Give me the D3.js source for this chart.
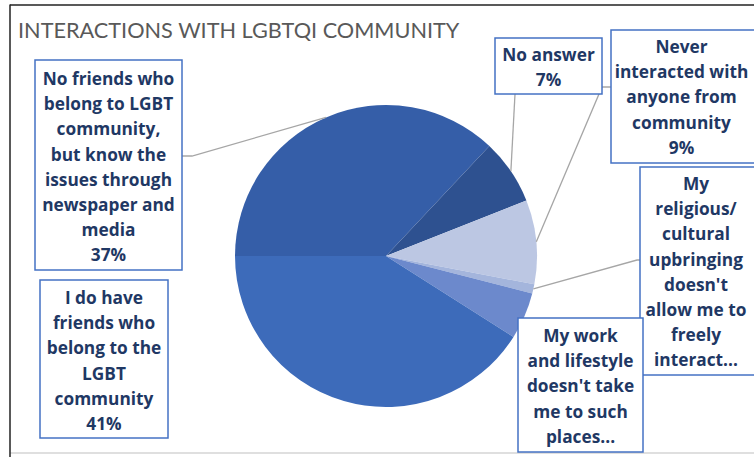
<!DOCTYPE html>
<html>
<head>
<meta charset="utf-8">
<script src="https://cdn.jsdelivr.net/npm/d3@7"></script>
<style>
  body { margin: 0; background: #fff; }
  svg { display: block; }
</style>
</head>
<body>
<div id="chart"></div>
<script>
// data (clockwise from 9 o'clock)
const categories = [
  "No friends who belong to LGBT community, but know the issues through newspaper and media",
  "No answer",
  "Never interacted with anyone from community",
  "My religious/ cultural upbringing doesn't allow me to freely interact...",
  "My work and lifestyle doesn't take me to such places...",
  "I do have friends who belong to the LGBT community"
];
const values = [37, 7, 9, 1, 5, 41];
const labelLines = [
  ["No friends who", "belong to LGBT", "community,", "but know the", "issues through", "newspaper and", "media"],
  ["No answer"],
  ["Never", "interacted with", "anyone from", "community"],
  ["My", "religious/", "cultural", "upbringing", "doesn't", "allow me to", "freely", "interact..."],
  ["My work", "and lifestyle", "doesn't take", "me to such", "places..."],
  ["I do have", "friends who", "belong to the", "LGBT", "community"]
];
const showPercent = [true, true, true, false, false, true];
const title = "INTERACTIONS WITH LGBTQI COMMUNITY";

const W = 754, H = 457;
const cx = 386, cy = 256, R = 151;

const color = d3.scaleOrdinal()
  .domain(categories)
  .range(["#355ea8", "#2e5190", "#bcc7e3", "#a4b5dc", "#6c89cc", "#3d6bba"]);

// label boxes: x, y, w, h, first line centre, leader path (elbow points)
const boxes = [
  {x: 35, y: 60, w: 147, h: 210, t: 79, leader: [[192, 156], [182, 156]]},
  {x: 495, y: 38, w: 107, h: 56, t: 55, leader: [[515, 94]]},
  {x: 611, y: 30, w: 150, h: 133, t: 47, leader: [[602, 87], [611, 87]]},
  {x: 640, y: 167, w: 120, h: 208, t: 184, leader: [[637, 260], [640, 260]]},
  {x: 518, y: 318, w: 125, h: 134, t: 336, leader: null},
  {x: 40, y: 280, w: 128, h: 158, t: 298, leader: null}
];
const lineH = 25.2;

const svg = d3.select("#chart").append("svg")
  .attr("width", W).attr("height", H);

// frame
svg.append("line").attr("x1", 10).attr("x2", W).attr("y1", 453).attr("y2", 453)
  .attr("stroke", "#d4d4d4").attr("stroke-width", 1.5);
svg.append("line").attr("x1", 10).attr("x2", 10).attr("y1", 4.5).attr("y2", H)
  .attr("stroke", "#222").attr("stroke-width", 1.5);
svg.append("line").attr("x1", 10).attr("x2", W).attr("y1", 5).attr("y2", 5)
  .attr("stroke", "#222").attr("stroke-width", 1.5);

svg.append("text")
  .attr("x", 18).attr("y", 38)
  .text(title)
  .style("font-family", "Lato, 'Open Sans', sans-serif")
  .style("font-size", "21.7px")
  .style("fill", "#595959");

const pie = d3.pie().sort(null)
  .startAngle(-Math.PI / 2).endAngle(3 * Math.PI / 2);
const arcs = pie(values);
const arc = d3.arc().innerRadius(0).outerRadius(R);
const edge = d3.arc().innerRadius(R).outerRadius(R);

const g = svg.append("g").attr("transform", "translate(" + cx + "," + cy + ")");
g.selectAll("path.slice")
  .data(arcs)
  .enter()
  .append("path")
  .attr("class", "slice")
  .attr("d", arc)
  .attr("fill", (d, i) => color(categories[i]));

// leader lines
arcs.forEach((d, i) => {
  const b = boxes[i];
  if (!b.leader) return;
  const p = edge.centroid(d);
  const pts = [[p[0] + cx, p[1] + cy]].concat(b.leader);
  svg.append("path")
    .attr("d", d3.line()(pts))
    .attr("fill", "none")
    .attr("stroke", "#a6a6a6")
    .attr("stroke-width", 1.3);
});

// label boxes
arcs.forEach((d, i) => {
  const b = boxes[i];
  const lg = svg.append("g").attr("class", "label");
  lg.append("rect")
    .attr("x", b.x).attr("y", b.y).attr("width", b.w).attr("height", b.h)
    .attr("fill", "#fff")
    .attr("stroke", "#4472c4")
    .attr("stroke-width", 1.5);
  const lines = labelLines[i].slice();
  if (showPercent[i]) lines.push(values[i] + "%");
  lg.selectAll("text")
    .data(lines)
    .enter()
    .append("text")
    .attr("x", b.x + Math.min(b.w, W - b.x - 2) / 2)
    .attr("y", (t, j) => b.t + j * lineH)
    .attr("dy", "0.35em")
    .attr("text-anchor", "middle")
    .text(t => t)
    .style("font-family", "'Open Sans', Lato, sans-serif")
    .style("font-weight", "700")
    .style("font-size", "17.3px")
    .style("fill", "#1f3864");
});
</script>
</body>
</html>
